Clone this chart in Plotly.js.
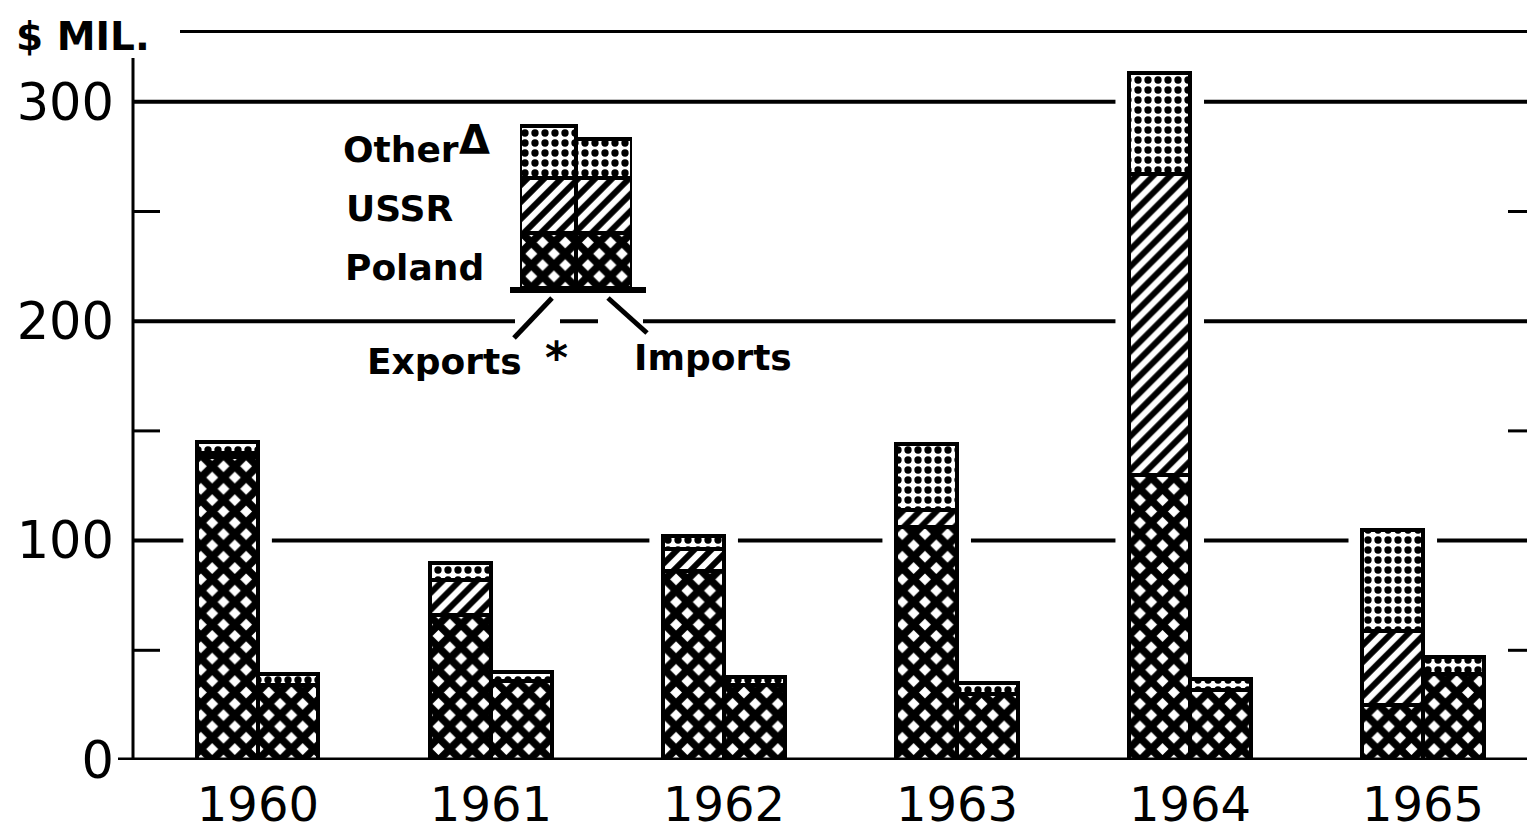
<!DOCTYPE html>
<html>
<head>
<meta charset="utf-8">
<script src="https://cdn.plot.ly/plotly-3.0.1.min.js"></script>
<style>html,body{margin:0;padding:0;background:#fff;}#chart{width:1527px;height:832px;}</style>
</head>
<body>
<div id="chart"></div>
<script>
// ---- data (US $ million) ----
const years = ['1960', '1961', '1962', '1963', '1964', '1965'];
const exportsPoland = [138, 66, 86, 106, 130, 25];
const exportsUSSR   = [2, 16, 10, 8, 137, 34];
const exportsOther  = [5, 8, 6, 30, 46, 46];
const importsPoland = [34, 36, 34, 30, 32, 39];
const importsOther  = [5, 4, 4, 5, 5, 8];
const yTicks = [0, 100, 200, 300];
const gridValues = [100, 200, 300];
const minorTicks = [50, 150, 250];
// legend swatch (decorative key) segment sizes
const keyExports = [55, 55, 52];   // Poland, USSR, Other
const keyImports = [55, 55, 39];

const FONT = 'DejaVu Sans';
const idx = years.map((_, i) => i);
const xExp = idx.map(i => i - 0.13);
const xImp = idx.map(i => i + 0.13);
const BW = 0.26;
const XR = [-0.536, 5.446];

const pat = {
  Poland: {shape: 'x', size: 16, solidity: 0.72, fgcolor: '#000', bgcolor: '#fff'},
  USSR:   {shape: '/', size: 12, solidity: 0.5, fgcolor: '#000', bgcolor: '#fff'},
  Other:  {shape: '.', size: 10, solidity: 0.42, fgcolor: '#000', bgcolor: '#fff'}
};
function bar(x, y, name, w, xa, ya) {
  return {
    type: 'bar', x: x, y: y, name: name, width: w, showlegend: false,
    xaxis: xa || 'x', yaxis: ya || 'y', hoverinfo: 'skip',
    marker: {color: '#fff', pattern: pat[name], line: {color: '#000', width: 4}}
  };
}

const traces = [
  bar(xExp, exportsPoland, 'Poland', BW),
  bar(xExp, exportsUSSR, 'USSR', BW),
  bar(xExp, exportsOther, 'Other', BW),
  bar(xImp, importsPoland, 'Poland', BW),
  bar(xImp, importsOther, 'Other', BW),
  // decorative key
  bar([0], [keyExports[0]], 'Poland', 1, 'x2', 'y2'),
  bar([0], [keyExports[1]], 'USSR', 1, 'x2', 'y2'),
  bar([0], [keyExports[2]], 'Other', 1, 'x2', 'y2'),
  bar([1], [keyImports[0]], 'Poland', 1, 'x2', 'y2'),
  bar([1], [keyImports[1]], 'USSR', 1, 'x2', 'y2'),
  bar([1], [keyImports[2]], 'Other', 1, 'x2', 'y2')
];

// pixel helpers for decorative elements (plot area: x 133..1527, y 25..760)
const px = x => (x - 133) / 1394;
const py = y => (760 - y) / 735;
const pxToData = x => XR[0] + (x - 133) / 1394 * (XR[1] - XR[0]);

const shapes = [];
// broken gridlines: interrupted where a bar crosses them
const expTot = idx.map(i => exportsPoland[i] + exportsUSSR[i] + exportsOther[i]);
const impTot = idx.map(i => importsPoland[i] + importsOther[i]);
const GAP = 0.06;
gridValues.forEach(v => {
  let gaps = [];
  idx.forEach(i => {
    if (expTot[i] >= v) gaps.push([xExp[i] - BW / 2 - GAP, xExp[i] + BW / 2 + GAP]);
    if (impTot[i] >= v) gaps.push([xImp[i] - BW / 2 - GAP, xImp[i] + BW / 2 + GAP]);
  });
  if (v === 200) { // breaks around the key pointers
    gaps.push([pxToData(515), pxToData(560)]);
    gaps.push([pxToData(598), pxToData(643)]);
  }
  gaps.sort((a, b) => a[0] - b[0]);
  let start = XR[0];
  gaps.forEach(g => {
    if (g[0] > start) shapes.push({type: 'line', xref: 'x', yref: 'y', x0: start, x1: g[0], y0: v, y1: v, line: {color: '#000', width: 4}, layer: 'below'});
    start = Math.max(start, g[1]);
  });
  shapes.push({type: 'line', xref: 'x', yref: 'y', x0: start, x1: XR[1], y0: v, y1: v, line: {color: '#000', width: 4}, layer: 'below'});
});
// top rule
shapes.push({type: 'line', xref: 'paper', yref: 'y', x0: px(180), x1: 1, y0: 332, y1: 332, line: {color: '#000', width: 3}, layer: 'below'});
// y axis line
shapes.push({type: 'line', xref: 'paper', yref: 'y', x0: 0, x1: 0, y0: 0, y1: 320, line: {color: '#000', width: 3}});
// baseline
shapes.push({type: 'line', xref: 'paper', yref: 'y', x0: px(118), x1: 1, y0: 0, y1: 0, line: {color: '#000', width: 5}});
// minor ticks left and right
minorTicks.forEach(v => {
  shapes.push({type: 'line', xref: 'paper', yref: 'y', x0: 0, x1: px(160), y0: v, y1: v, line: {color: '#000', width: 3}});
  shapes.push({type: 'line', xref: 'paper', yref: 'y', x0: px(1508), x1: 1, y0: v, y1: v, line: {color: '#000', width: 3}});
});
// key: base bar and pointer strokes
shapes.push({type: 'line', xref: 'paper', yref: 'paper', x0: px(510), x1: px(646), y0: py(290), y1: py(290), line: {color: '#000', width: 6}});
shapes.push({type: 'line', xref: 'paper', yref: 'paper', x0: px(552), x1: px(514), y0: py(298), y1: py(338), line: {color: '#000', width: 5}});
shapes.push({type: 'line', xref: 'paper', yref: 'paper', x0: px(608), x1: px(647), y0: py(298), y1: py(333), line: {color: '#000', width: 5}});

const af = {family: FONT, size: 36, color: '#000'};
const annotations = [
  {text: '<b>$ MIL.</b>', xref: 'paper', yref: 'paper', x: px(14), y: py(36), xanchor: 'left', yanchor: 'middle', showarrow: false, font: {family: FONT, size: 39, color: '#000'}},
  {text: '<b>Other</b>', xref: 'paper', yref: 'paper', x: px(341), y: py(149), xanchor: 'left', yanchor: 'middle', showarrow: false, font: af},
  {text: '<b>Δ</b>', xref: 'paper', yref: 'paper', x: px(474), y: py(140), xanchor: 'center', yanchor: 'middle', showarrow: false, font: {family: FONT, size: 40, color: '#000'}},
  {text: '<b>USSR</b>', xref: 'paper', yref: 'paper', x: px(344), y: py(208), xanchor: 'left', yanchor: 'middle', showarrow: false, font: af},
  {text: '<b>Poland</b>', xref: 'paper', yref: 'paper', x: px(343), y: py(267), xanchor: 'left', yanchor: 'middle', showarrow: false, font: af},
  {text: '<b>Exports</b>', xref: 'paper', yref: 'paper', x: px(365), y: py(361), xanchor: 'left', yanchor: 'middle', showarrow: false, font: af},
  {text: '<b>*</b>', xref: 'paper', yref: 'paper', x: px(556), y: py(357), xanchor: 'center', yanchor: 'middle', showarrow: false, font: {family: FONT, size: 44, color: '#000'}},
  {text: '<b>Imports</b>', xref: 'paper', yref: 'paper', x: px(632), y: py(357), xanchor: 'left', yanchor: 'middle', showarrow: false, font: af}
];

const layout = {
  width: 1527, height: 832,
  margin: {l: 133, r: 0, t: 25, b: 72, pad: 0},
  paper_bgcolor: '#fff', plot_bgcolor: '#fff',
  barmode: 'stack', bargap: 0,
  showlegend: false,
  xaxis: {
    range: XR, tickvals: idx, ticktext: years,
    showgrid: false, zeroline: false, showline: false, ticks: '',
    tickfont: {family: FONT, size: 48, color: '#000'}, ticklabelstandoff: 12,
    fixedrange: true
  },
  yaxis: {
    range: [0, 335], tickvals: yTicks, ticktext: yTicks.map(String),
    showgrid: false, zeroline: false, showline: false, ticks: '',
    tickfont: {family: FONT, size: 51, color: '#000'}, ticklabelstandoff: 18,
    fixedrange: true
  },
  xaxis2: {domain: [px(520), px(632)], range: [-0.5, 1.5], anchor: 'y2', visible: false, fixedrange: true},
  yaxis2: {domain: [py(288), py(118)], range: [0, 170], anchor: 'x2', visible: false, fixedrange: true},
  shapes: shapes,
  annotations: annotations
};

Plotly.newPlot('chart', traces, layout, {staticPlot: true, displayModeBar: false});
</script>
</body>
</html>
